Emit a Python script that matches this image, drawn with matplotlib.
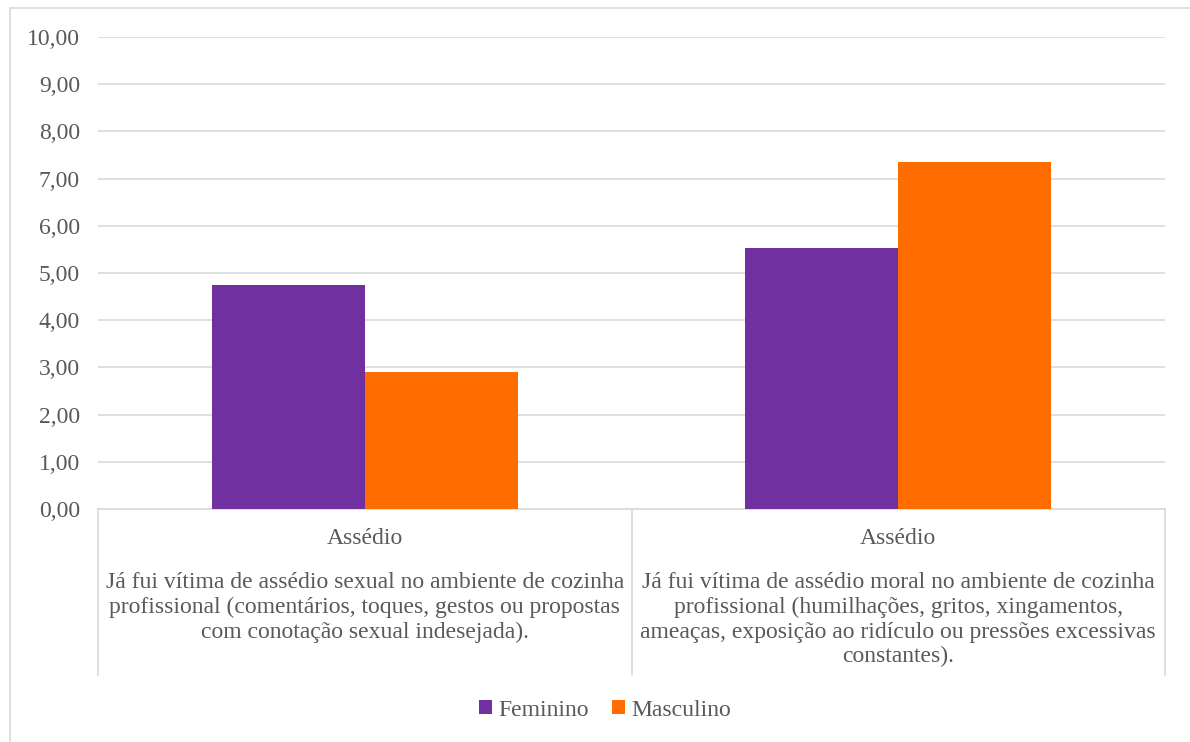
import matplotlib.pyplot as plt
import numpy as np
from matplotlib.patches import Rectangle

plt.rcParams['font.family'] = ['Liberation Serif', 'DejaVu Serif']

series = ['Feminino', 'Masculino']
colors = ['#7030A0', '#FF6D00']
groups = ['Assédio', 'Assédio']
descriptions = [
    'Já fui vítima de assédio sexual no ambiente de cozinha\n'
    'profissional (comentários, toques, gestos ou propostas\n'
    'com conotação sexual indesejada).',
    'Já fui vítima de assédio moral no ambiente de cozinha\n'
    'profissional (humilhações, gritos, xingamentos,\n'
    'ameaças, exposição ao ridículo ou pressões excessivas\n'
    'constantes).',
]
feminino = [4.75, 5.53]
masculino = [2.91, 7.35]
yticks = np.arange(0, 11, 1)

grey = '#595959'
fs = 17
fig = plt.figure(figsize=(11.9, 7.42), dpi=100)
fig.patches.append(Rectangle((10 / 1190, -0.02), 1, 1.02 - 8 / 742, transform=fig.transFigure,
                             fill=False, edgecolor='#d9d9d9', linewidth=1.2))
ax = fig.add_axes([98 / 1190, 1 - 509 / 742, (1165 - 98) / 1190, (509 - 37) / 742])

x = np.arange(len(groups))
w = 0.287
ax.bar(x - w / 2, feminino, w, color=colors[0], label=series[0], zorder=3)
ax.bar(x + w / 2, masculino, w, color=colors[1], label=series[1], zorder=3)

ax.set_xlim(-0.5, 1.5)
ax.set_ylim(0, 10)
ax.set_yticks(yticks)
ax.set_yticklabels([f'{v:.2f}'.replace('.', ',') for v in yticks], fontsize=fs, color=grey)
ax.tick_params(axis='y', length=0, pad=13)
ax.tick_params(axis='x', length=0, labelbottom=False)
ax.grid(axis='y', color='#d9d9d9', linewidth=1.2, zorder=0)
for s in ['top', 'right', 'left']:
    ax.spines[s].set_visible(False)
ax.spines['bottom'].set_color('#d9d9d9')
ax.spines['bottom'].set_linewidth(1.2)

# multi-level category boxes below the axis
px = 47.2  # pixels per unit on the y axis
for xv in [-0.5, 0.5, 1.5]:
    ax.plot([xv, xv], [0, -(675 - 509) / px], color='#d9d9d9', linewidth=1.2, clip_on=False)
for i in range(len(groups)):
    ax.text(x[i], -(538 - 509) / px, groups[i], ha='center', va='center',
            fontsize=fs, color=grey)
    ax.text(x[i], -(572 - 509) / px, descriptions[i], ha='center', va='top',
            fontsize=fs, color=grey, linespacing=1.23)

fig.legend(loc='center', bbox_to_anchor=(605 / 1190, 1 - 710 / 742), ncol=2, frameon=False,
           fontsize=fs, labelcolor=grey, handlelength=0.55, handleheight=0.55,
           handletextpad=0.25, columnspacing=1.0)

fig.savefig('out.png', dpi=100)
